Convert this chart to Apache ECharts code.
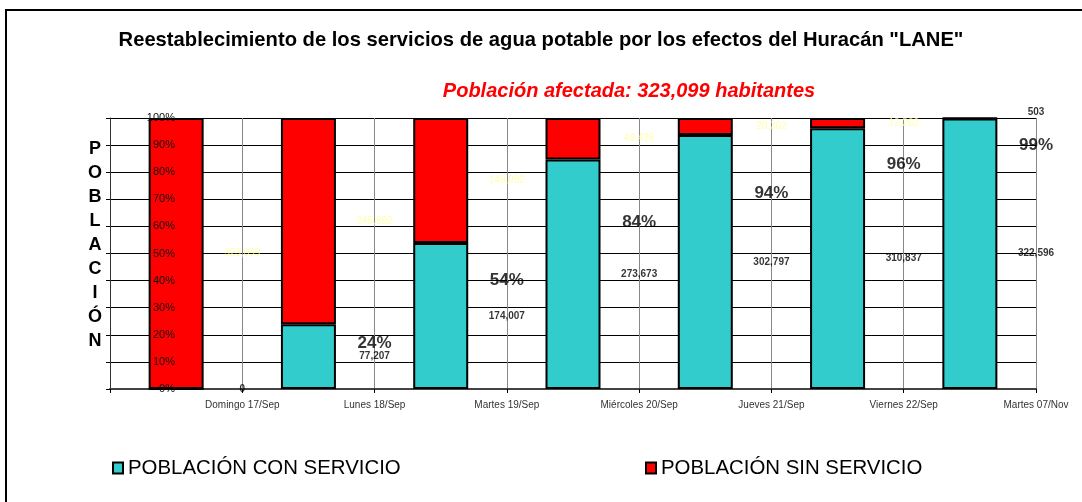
<!DOCTYPE html>
<html>
<head>
<meta charset="utf-8">
<script src="https://cdn.jsdelivr.net/npm/echarts@6.0.0/dist/echarts.min.js"></script>
<style>
  html, body { margin: 0; padding: 0; background: #fff; }
  #chart { width: 1082px; height: 502px; }
</style>
</head>
<body>
<div id="chart"></div>
<script>
// Días del reporte
const categories = ['Domingo 17/Sep', 'Lunes 18/Sep', 'Martes 19/Sep', 'Miércoles 20/Sep',
                    'Jueves 21/Sep', 'Viernes 22/Sep', 'Martes 07/Nov'];
// Población con y sin servicio de agua potable
const conServicio = [0, 77207, 174007, 273673, 302797, 310837, 322596];
const sinServicio = [323099, 245892, 149092, 49426, 20302, 12262, 503];
// Porcentaje de población con servicio (texto del reporte)
const porcentajes = ['', '24%', '54%', '84%', '94%', '96%', '99%'];
const poblacionTotal = 323099;

// Altura (en % del eje) donde se escribe cada porcentaje
const nivelPorcentaje = [null, 17, 40, 61.5, 72.3, 83, 90];

const FONT = '"Liberation Sans", Arial, Helvetica, sans-serif';
const fmt = v => v.toLocaleString('en-US');
const ultimo = categories.length - 1;

const chart = echarts.init(document.getElementById('chart'));

const option = {
  animation: false,
  backgroundColor: '#fff',
  textStyle: { fontFamily: FONT },
  title: [
    {
      text: 'Reestablecimiento de los servicios de agua potable por los efectos del Huracán "LANE"',
      left: 'center', top: 25,
      textStyle: { fontFamily: FONT, fontSize: 20.2, fontWeight: 'bold', color: '#000' }
    },
    {
      text: 'Población afectada: ' + fmt(poblacionTotal) + ' habitantes',
      left: 624, textAlign: 'center', top: 76,
      textStyle: { fontFamily: FONT, fontSize: 20, fontWeight: 'bold', fontStyle: 'italic', color: '#ff0000' }
    }
  ],
  legend: [
    {
      data: ['POBLACIÓN CON SERVICIO'], left: 112, top: 458, padding: 0,
      icon: 'rect', itemWidth: 10, itemHeight: 11, itemGap: 6,
      textStyle: { fontFamily: FONT, fontSize: 20.4, color: '#000' }
    },
    {
      data: ['POBLACIÓN SIN SERVICIO'], left: 645, top: 458, padding: 0,
      icon: 'rect', itemWidth: 10, itemHeight: 11, itemGap: 6,
      textStyle: { fontFamily: FONT, fontSize: 20.4, color: '#000' }
    }
  ],
  graphic: [
    {
      type: 'rect', silent: true,
      shape: { x: 6, y: 10, width: 1100, height: 520 },
      style: { fill: 'none', stroke: '#000', lineWidth: 2 }
    },
    {
      type: 'text', silent: true, x: 95, y: 245,
      style: {
        text: 'P\nO\nB\nL\nA\nC\nI\nÓ\nN',
        font: 'bold 18px ' + FONT, fill: '#000',
        textAlign: 'center', textVerticalAlign: 'middle', lineHeight: 24
      }
    }
  ],
  grid: { left: 110, right: 46, top: 118, bottom: 113, containLabel: false },
  xAxis: [
    {
      type: 'category', data: categories, show: false
    },
    {
      type: 'value', min: 0, max: categories.length, interval: 1, position: 'bottom',
      axisLine: { show: true, lineStyle: { color: '#444', width: 2 } },
      axisTick: { show: true, length: 4, lineStyle: { color: '#000' } },
      axisLabel: {
        formatter: v => (v >= 1 ? categories[v - 1] : ''),
        fontFamily: FONT, fontSize: 10, color: '#333', margin: 11
      },
      splitLine: { show: true, lineStyle: { color: '#888', width: 1 } }
    }
  ],
  yAxis: [
    {
      type: 'value', min: 0, max: poblacionTotal, interval: poblacionTotal / 10,
      axisLine: { show: true, lineStyle: { color: '#333', width: 1 } },
      axisTick: { show: true, length: 4, lineStyle: { color: '#000' } },
      axisLabel: { show: false },
      splitLine: { show: true, lineStyle: { color: '#000', width: 1 } }
    },
    {
      type: 'value', min: 0, max: poblacionTotal, interval: poblacionTotal / 10,
      position: 'left', z: 10,
      axisLine: { show: false }, axisTick: { show: false }, splitLine: { show: false },
      axisLabel: {
        margin: -65,
        formatter: v => Math.round(v / poblacionTotal * 100) + '%',
        fontFamily: FONT, fontSize: 11, color: '#111'
      }
    }
  ],
  series: [
    {
      name: 'POBLACIÓN CON SERVICIO', type: 'bar', stack: 'pob',
      xAxisIndex: 0, yAxisIndex: 0, barWidth: 55,
      data: conServicio,
      itemStyle: { color: '#33CCCC', borderColor: '#000', borderWidth: 2 }
    },
    {
      name: 'POBLACIÓN SIN SERVICIO', type: 'bar', stack: 'pob',
      xAxisIndex: 0, yAxisIndex: 0, barWidth: 55,
      data: sinServicio,
      itemStyle: { color: '#FF0000', borderColor: '#000', borderWidth: 2 }
    },
    {
      // cifras de población con servicio
      name: 'etiquetasCon', type: 'scatter', xAxisIndex: 1, yAxisIndex: 0,
      symbolSize: 0, silent: true, clip: false, z: 6,
      data: conServicio.map((v, i) => [i + 1, v / 2, v]),
      label: {
        show: true, position: 'inside',
        formatter: p => fmt(p.value[2]),
        fontFamily: FONT, fontSize: 10, fontWeight: 'bold', color: '#000'
      }
    },
    {
      // cifras de población sin servicio
      name: 'etiquetasSin', type: 'scatter', xAxisIndex: 1, yAxisIndex: 0,
      symbolSize: 0, silent: true, clip: false, z: 6,
      data: sinServicio.map((v, i) => {
        const item = { value: [i + 1, conServicio[i] + v / 2, v] };
        if (i === ultimo) {
          item.label = { color: '#000', fontWeight: 'bold', offset: [0, -6] };
        }
        return item;
      }),
      label: {
        show: true, position: 'inside',
        formatter: p => fmt(p.value[2]),
        fontFamily: FONT, fontSize: 10, color: '#FFFF99'
      }
    },
    {
      // porcentajes de avance
      name: 'etiquetasPct', type: 'scatter', xAxisIndex: 1, yAxisIndex: 0,
      symbolSize: 0, silent: true, clip: false, z: 6,
      data: porcentajes
        .map((t, i) => (t ? [i + 1, nivelPorcentaje[i] / 100 * poblacionTotal, t] : null))
        .filter(d => d !== null),
      label: {
        show: true, position: 'inside',
        formatter: p => p.value[2],
        fontFamily: FONT, fontSize: 17, fontWeight: 'bold', color: '#000'
      }
    }
  ]
};

chart.setOption(option);
</script>
</body>
</html>
